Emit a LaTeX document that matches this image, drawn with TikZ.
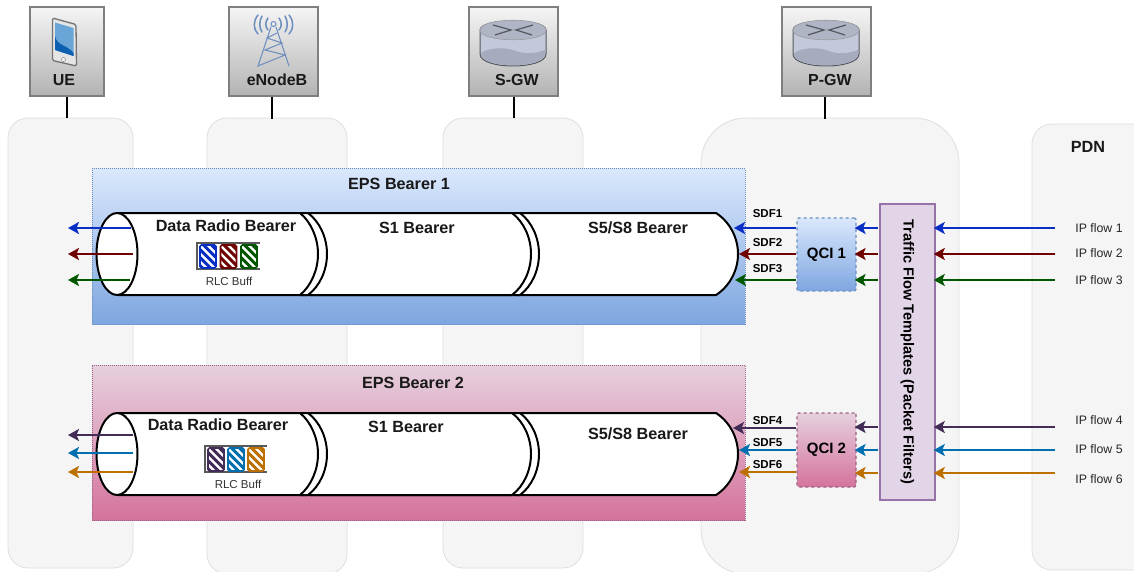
\documentclass[tikz,border=0pt]{standalone}
\usepackage{fontspec}
\setmainfont{Liberation Sans}
\usetikzlibrary{arrows.meta}

\definecolor{flowblue}{HTML}{0A2FC4}
\definecolor{flowred}{HTML}{6F0000}
\definecolor{flowgreen}{HTML}{005700}
\definecolor{flowpurple}{HTML}{432D57}
\definecolor{flowsky}{HTML}{006EAF}
\definecolor{floworange}{HTML}{BD7000}
\definecolor{colfill}{HTML}{F5F5F5}
\definecolor{colline}{HTML}{DEDEDE}
\definecolor{icontop}{HTML}{F5F5F5}
\definecolor{iconbottom}{HTML}{B3B3B3}
\definecolor{iconline}{HTML}{7F7F7F}
\definecolor{bluetop}{HTML}{DAE8FC}
\definecolor{bluebottom}{HTML}{7EA6E0}
\definecolor{blueline}{HTML}{6C8EBF}
\definecolor{pinktop}{HTML}{E6D0DE}
\definecolor{pinkbottom}{HTML}{D5739D}
\definecolor{pinkline}{HTML}{996185}
\definecolor{tftfill}{HTML}{E1D5E7}
\definecolor{tftline}{HTML}{9673A6}
\definecolor{routerbody}{HTML}{C3C9DA}
\definecolor{routerwave}{HTML}{A6ABBD}
\definecolor{routertop}{HTML}{B0B5C5}
\definecolor{routerline}{HTML}{55585F}
\definecolor{phoneblue}{HTML}{6AA5D8}
\definecolor{phonedark}{HTML}{0D5FB0}

\tikzset{
	column/.style={draw=colline, fill=colfill, line width=.8pt, rounded corners=#1, inner sep=0pt},
	iconbox/.style={draw=iconline, line width=1.5pt, top color=icontop, bottom color=iconbottom, inner sep=0pt, minimum width=#1, minimum height=89pt},
	iconlabel/.style={font=\fontsize{16}{18}\selectfont\bfseries, text=black!90},
	bearerlabel/.style={font=\fontsize{16.2}{18}\selectfont\bfseries, text=black!90},
	sdflabel/.style={font=\fontsize{11.5}{13}\selectfont\bfseries},
	iplabel/.style={font=\fontsize{12.3}{14}\selectfont, text=black!85},
	rlclabel/.style={font=\fontsize{11.5}{13}\selectfont, text=black!80},
	bluefade/.style={top color=bluetop, bottom color=bluebottom},
	pinkfade/.style={top color=pinktop, bottom color=pinkbottom},
	epsbox/.style={densely dotted, line width=1pt, inner sep=0pt, minimum width=653pt, minimum height=155pt},
	qcibox/.style={dashed, line width=1.2pt, rounded corners=1.5pt, inner sep=0pt, minimum width=59pt, font=\fontsize{15}{17}\selectfont\bfseries},
	flow/.style={draw=#1, line width=2pt, -{Stealth[inset=2.5pt,length=11pt,width=12pt]}},
	intoflow/.style={flow=#1, shorten >=-2pt},
	rlccell/.style={draw=#1, fill=white, line width=1.6pt, rounded corners=1.5pt, inner sep=0pt, minimum width=16pt, minimum height=23pt,
		path picture={
			\foreach \d in {-25,-17,...,25}
				\draw[#1, line width=3pt] ([shift={(\d-20,-20)}]path picture bounding box.center) -- ([shift={(\d+20,20)}]path picture bounding box.center);
		}},
	rlcframe/.style={draw=black!65, line width=1.6pt},
	tube/.style={draw=black, line width=2pt, fill=white, line join=round},
	bearertube/.pic={
		% last tube first, the others lie over it
		\path[tube] (515,0) -- (716,0) .. controls (730,9) and (738,25) .. (738,41) .. controls (738,57) and (730,73) .. (716,82) -- (515,82) -- cycle;
		\path[tube] (310,0) -- (520,0) .. controls (532,9) and (539,25) .. (539,41) .. controls (539,57) and (532,73) .. (520,82) -- (310,82) -- cycle;
		\path[tube] (300,0) -- (512,0) .. controls (524,9) and (531,25) .. (531,41) .. controls (531,57) and (524,73) .. (512,82) -- (300,82) -- cycle;
		\path[tube] (308,0) .. controls (320,9) and (327,25) .. (327,41) .. controls (327,57) and (320,73) .. (308,82) -- (300,82) -- (300,0) -- cycle;
		\path[tube] (118,0) -- (300,0) .. controls (311,9) and (318,25) .. (318,41) .. controls (318,57) and (311,73) .. (300,82) -- (118,82) -- cycle;
		\path[tube] (117,0) .. controls (128,0) and (137.5,18) .. (137.5,41) .. controls (137.5,64) and (128,82) .. (117,82) .. controls (106,82) and (96.5,64) .. (96.5,41) .. controls (96.5,18) and (106,0) .. (117,0) -- cycle;
	},
	routericon/.pic={
		\path[draw=routerline, line width=1pt, fill=routerbody] (-33,-14) .. controls (-33,-26) and (33,-26) .. (33,-14) -- (33,10) .. controls (33,26) and (-33,26) .. (-33,10) -- cycle;
		\path[fill=routerwave] (-32,9) .. controls (-22,3) and (-8,3) .. (3,7) .. controls (14,11) and (24,9) .. (32,6) -- (32,10) .. controls (32,25) and (-32,25) .. (-32,10) -- cycle;
		\path[draw=routerline!60, line width=.6pt, fill=routertop] (-33,-14) .. controls (-33,-27) and (33,-27) .. (33,-14) .. controls (33,-1) and (-33,-1) .. (-33,-14) -- cycle;
		\draw[routerline, line width=1.2pt] (-20,-19) -- (-2,-14) -- (-18,-9);
		\draw[routerline, line width=1.2pt] (20,-19) -- (3,-14) -- (19,-9);
	},
}

\begin{document}
\begin{tikzpicture}[x=1pt,y=-1pt]
	\path[use as bounding box, clip] (0,0) rectangle (1134,572);

	% columns behind the bearers
	\node[column=20pt, minimum width=125pt, minimum height=450pt] (uecol) at (70.5,343) {};
	\node[column=20pt, minimum width=140pt, minimum height=456pt] (enbcol) at (277,346) {};
	\node[column=20pt, minimum width=140pt, minimum height=450pt] (sgwcol) at (513,343) {};
	\node[column=45pt, minimum width=258pt, minimum height=456pt] (pgwcol) at (830,346) {};
	\node[column=20pt, minimum width=130pt, minimum height=446pt] (pdncol) at (1097,347) {};
	\node[bearerlabel] (pdn) at (1088,147) {PDN};

	% entities
	\node[iconbox=74pt] (ue) at (67,51.5) {};
	\node[iconbox=89pt] (enb) at (273.5,51.5) {};
	\node[iconbox=89pt] (sgw) at (513.5,51.5) {};
	\node[iconbox=89pt] (pgw) at (826.5,51.5) {};
	\node[iconlabel] (uename) at (64,80) {UE};
	\node[iconlabel] (enbname) at (277,80) {eNodeB};
	\node[iconlabel] (sgwname) at (517,80) {S-GW};
	\node[iconlabel] (pgwname) at (830,80) {P-GW};

	\draw[black, line width=2pt] (ue.south) -- (ue.south |- uecol.north);
	\draw[black, line width=2pt] (enb.south) ++(-1.5,0) -- +(0,22);
	\draw[black, line width=2pt] (sgw.south) -- (sgw.south |- sgwcol.north);
	\draw[black, line width=2pt] (pgw.south) ++(-1.5,0) -- +(0,22);

	% phone
	\path[draw=black!55, line width=1.3pt, fill=black!10, rounded corners=1.5pt] (52.5,18) -- (76,24.5) -- (76.5,66) -- (52.5,60.5) -- cycle;
	\path[fill=phoneblue] (55,22.5) -- (73.5,28) -- (73.5,56) -- (55,50) -- cycle;
	\path[fill=phonedark] (55,36) .. controls (57,46) and (66,44) .. (73.5,53) -- (73.5,56) -- (55,50) -- cycle;
	\path[draw=black!40, line width=.7pt, fill=white] (63.5,59.5) circle[radius=2pt];

	% tower
	\begin{scope}[draw=blueline, line width=1pt, line cap=round]
		\draw (273.5,24) circle[radius=2.5pt];
		\draw (271,27) -- (258,66) -- (285,55) -- (265,50) -- (282,43) -- (267,38) -- (277,33);
		\draw (276,27) -- (289,66);
		\draw[line width=1.5pt] (268,18) .. controls (265,22) and (265,27) .. (268,30);
		\draw[line width=1.5pt] (262,16) .. controls (259,21) and (259,28) .. (262,32);
		\draw[line width=1.5pt] (258,15) .. controls (253,21) and (253,29) .. (258,34);
		\draw[line width=1.5pt] (279,18) .. controls (282,22) and (282,27) .. (279,30);
		\draw[line width=1.5pt] (285,16) .. controls (288,21) and (288,28) .. (285,32);
		\draw[line width=1.5pt] (289,15) .. controls (294,21) and (294,29) .. (289,34);
	\end{scope}

	\pic at (513,44) {routericon};
	\pic at (826,44) {routericon};

	% EPS bearers
	\node[draw=blueline, epsbox, bluefade] (eps1) at (418.5,246.5) {};
	\node[draw=pinkline, epsbox, pinkfade] (eps2) at (418.5,442.5) {};
	\node[bearerlabel] (eps1name) at (399,184) {EPS Bearer 1};
	\node[bearerlabel] (eps2name) at (413,383) {EPS Bearer 2};

	\pic at (0,213) {bearertube};
	\pic at (0,413) {bearertube};

	\node[bearerlabel] (drb1) at (226,226) {Data Radio Bearer};
	\node[bearerlabel] (sone1) at (417,228) {S1 Bearer};
	\node[bearerlabel] (sfive1) at (638,228) {S5/S8 Bearer};
	\node[bearerlabel] (drb2) at (218,425) {Data Radio Bearer};
	\node[bearerlabel] (sone2) at (406,427) {S1 Bearer};
	\node[bearerlabel] (sfive2) at (638,434) {S5/S8 Bearer};

	% RLC buffers
	\draw[rlcframe] (260,243) -- (197,243) -- (197,269) -- (260,269);
	\node[rlccell=flowblue] (buffa) at (208,256.5) {};
	\node[rlccell=flowred] (buffb) at (228.5,256.5) {};
	\node[rlccell=flowgreen] (buffc) at (249,256.5) {};
	\node[rlclabel] (rlc1) at (229,281) {RLC Buff};
	\draw[rlcframe] (267,446) -- (205,446) -- (205,472) -- (267,472);
	\node[rlccell=flowpurple] (buffd) at (216,459.5) {};
	\node[rlccell=flowsky] (buffe) at (236,459.5) {};
	\node[rlccell=floworange] (bufff) at (256,459.5) {};
	\node[rlclabel] (rlc2) at (238,484) {RLC Buff};

	% QCI and filters
	\node[draw=blueline, qcibox, bluefade, minimum height=73pt] (qcia) at (826.5,254.5) {QCI 1};
	\node[draw=pinkline, qcibox, pinkfade, minimum height=74pt] (qcib) at (826.5,450) {QCI 2};
	\node[draw=tftline, fill=tftfill, line width=1.5pt, inner sep=0pt, minimum width=55pt, minimum height=296pt] (tft) at (907.5,352) {};
	\node[rotate=-90, font=\fontsize{14.6}{16}\selectfont\bfseries] (tftname) at (907.5,352) {Traffic Flow Templates (Packet Filters)};

	% flows from the right, end points are typed once
	\coordinate (ipa) at (1055,228);
	\coordinate (ipb) at (1055,254);
	\coordinate (ipc) at (1055,280);
	\coordinate (ipd) at (1055,427);
	\coordinate (ipe) at (1055,450);
	\coordinate (ipf) at (1055,473);
	\node[iplabel] (ipaname) at (1099,228) {IP flow 1};
	\node[iplabel] (ipbname) at (1099,253) {IP flow 2};
	\node[iplabel] (ipcname) at (1099,280) {IP flow 3};
	\node[iplabel] (ipdname) at (1099,420) {IP flow 4};
	\node[iplabel] (ipename) at (1099,449) {IP flow 5};
	\node[iplabel] (ipfname) at (1099,479) {IP flow 6};

	\draw[intoflow=flowblue] (ipa) -- (tft.east |- ipa);
	\draw[intoflow=flowred] (ipb) -- (tft.east |- ipb);
	\draw[intoflow=flowgreen] (ipc) -- (tft.east |- ipc);
	\draw[intoflow=flowpurple] (ipd) -- (tft.east |- ipd);
	\draw[intoflow=flowsky] (ipe) -- (tft.east |- ipe);
	\draw[intoflow=floworange] (ipf) -- (tft.east |- ipf);

	\draw[intoflow=flowblue] (878,228) -- (qcia.east |- ipa);
	\draw[intoflow=flowred] (878,254) -- (qcia.east |- ipb);
	\draw[intoflow=flowgreen] (878,280) -- (qcia.east |- ipc);
	\draw[intoflow=flowpurple] (878,427) -- (qcib.east |- ipd);
	\draw[intoflow=flowsky] (878,450) -- (qcib.east |- ipe);
	\draw[intoflow=floworange] (878,473) -- (qcib.east |- ipf);

	\coordinate (sdfa) at (734,228);
	\coordinate (sdfb) at (739,254);
	\coordinate (sdfc) at (735,280);
	\coordinate (sdfd) at (733,428);
	\coordinate (sdfe) at (739,450);
	\coordinate (sdff) at (739,472);
	\draw[flow=flowblue] (qcia.west |- sdfa) -- (sdfa);
	\draw[flow=flowred] (qcia.west |- sdfb) -- (sdfb);
	\draw[flow=flowgreen] (qcia.west |- sdfc) -- (sdfc);
	\draw[flow=flowpurple] (qcib.west |- sdfd) -- (sdfd);
	\draw[flow=flowsky] (qcib.west |- sdfe) -- (sdfe);
	\draw[flow=floworange] (qcib.west |- sdff) -- (sdff);

	\node[sdflabel] (sdfaname) at (767.5,214) {SDF1};
	\node[sdflabel] (sdfbname) at (767.5,243) {SDF2};
	\node[sdflabel] (sdfcname) at (767.5,269) {SDF3};
	\node[sdflabel] (sdfdname) at (767.5,421) {SDF4};
	\node[sdflabel] (sdfename) at (767.5,443) {SDF5};
	\node[sdflabel] (sdffname) at (767.5,465) {SDF6};

	% flows leaving the tubes towards the UE
	\coordinate (uea) at (68,228);
	\coordinate (ueb) at (68,254);
	\coordinate (uec) at (68,280);
	\coordinate (ued) at (68,435);
	\coordinate (uee) at (68,453);
	\coordinate (uef) at (68,472);
	\draw[flow=flowblue] (131,228) -- (uea);
	\draw[flow=flowred] (133,254) -- (ueb);
	\draw[flow=flowgreen] (130,280) -- (uec);
	\draw[flow=flowpurple] (133,435) -- (ued);
	\draw[flow=flowsky] (133,453) -- (uee);
	\draw[flow=floworange] (133,472) -- (uef);
\end{tikzpicture}
\end{document}
